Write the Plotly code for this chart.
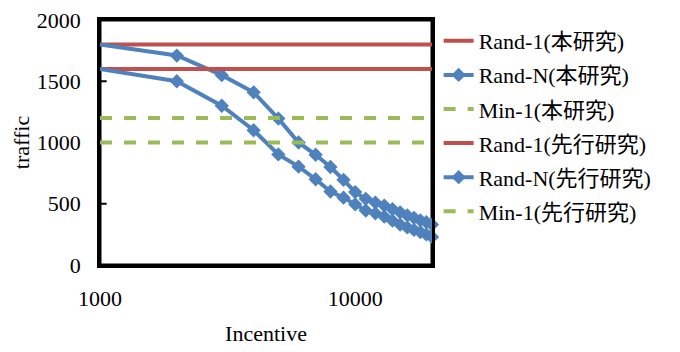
import math
import plotly.graph_objects as go

incentive = [1000, 2000, 3000, 4000, 5000, 6000, 7000, 8000, 9000, 10000,
             11000, 12000, 13000, 14000, 15000, 16000, 17000, 18000, 19000, 20000]
rand_n_this = [1800, 1710, 1550, 1410, 1195, 1000, 900, 800, 695, 595,
               540, 510, 485, 455, 430, 405, 385, 365, 350, 330]
rand_n_prev = [1600, 1500, 1300, 1100, 903, 803, 700, 600, 550, 495,
               445, 422, 395, 362, 330, 307, 286, 269, 250, 229]
line_x = [1000, 20000]
rand1_this = [1800, 1800]
min1_this = [1200, 1200]
rand1_prev = [1600, 1600]
min1_prev = [1000, 1000]

x_tick_vals = [1000, 2000, 3000, 4000, 5000, 6000, 7000, 8000, 9000, 10000]
x_tick_text = ["1000", "", "", "", "", "", "", "", "", "10000"]
y_ticks = [0, 500, 1000, 1500, 2000]

RED = "#C0504D"
BLUE = "#4F81BD"
GREEN = "#9BBB59"
FONT = "'Liberation Serif', 'Noto Sans CJK JP', serif"

fig = go.Figure()


def add(x, y, name, color, dash=None, markers=False, grp=""):
    fig.add_trace(go.Scatter(
        x=x, y=y, name=name, legendgroup=grp,
        mode="lines+markers" if markers else "lines",
        line=dict(color=color, width=4, dash=dash), cliponaxis=False,
        marker=dict(symbol="diamond", size=11, color=color)))


add(line_x, rand1_this, "Rand-1(本研究)", RED, grp="g1")
add(incentive, rand_n_this, "Rand-N(本研究)", BLUE, markers=True, grp="g2")
add(line_x, min1_this, "Min-1(本研究)", GREEN, dash="dash", grp="g3")
add(line_x, rand1_prev, "Rand-1(先行研究)", RED, grp="g4")
add(incentive, rand_n_prev, "Rand-N(先行研究)", BLUE, markers=True, grp="g5")
add(line_x, min1_prev, "Min-1(先行研究)", GREEN, dash="dash", grp="g6")

# plot frame
fig.add_shape(type="rect", xref="paper", yref="paper", x0=0, x1=1, y0=0, y1=1,
              line=dict(color="black", width=3), layer="below")
# inside tick marks (log axis -> shape coordinates in log10 units)
for v in x_tick_vals[1:]:
    lv = math.log10(v)
    fig.add_shape(type="line", xref="x", yref="paper", x0=lv, x1=lv, y0=0, y1=0.028,
                  line=dict(color="black", width=2), layer="below")
for v in y_ticks[1:-1]:
    fig.add_shape(type="line", xref="paper", yref="y", x0=0, x1=0.02, y0=v, y1=v,
                  line=dict(color="black", width=2), layer="below")

fig.update_layout(
    width=672, height=344,
    margin=dict(l=92, r=248, t=12, b=87),
    paper_bgcolor="white", plot_bgcolor="rgba(0,0,0,0)",
    font=dict(family=FONT, size=22, color="black"),
    showlegend=True,
    legend=dict(x=1.02, y=1.0, xanchor="left", yanchor="top",
                font=dict(family=FONT, size=22, color="black"),
                bgcolor="rgba(0,0,0,0)", tracegroupgap=2.5, traceorder="grouped"),
    xaxis=dict(type="log", range=[3, 4.30103],
               tickmode="array", tickvals=x_tick_vals, ticktext=x_tick_text,
               showgrid=False, zeroline=False, automargin=False,
               showline=True, linecolor="black", linewidth=2.5, mirror=True,
               ticks="outside", ticklen=12, tickcolor="rgba(0,0,0,0)",
               ticklabeloverflow="allow",
               title=dict(text="Incentive", standoff=16, font=dict(family=FONT, size=22))),
    yaxis=dict(range=[0, 2000], tickmode="array", tickvals=y_ticks,
               showgrid=False, zeroline=False, automargin=False,
               showline=True, linecolor="black", linewidth=2.5, mirror=True,
               ticks="outside", ticklen=12, tickcolor="rgba(0,0,0,0)",
               ticklabeloverflow="allow",
               title=dict(text="traffic", standoff=2, font=dict(family=FONT, size=22))),
)

fig.write_html("out.html")
